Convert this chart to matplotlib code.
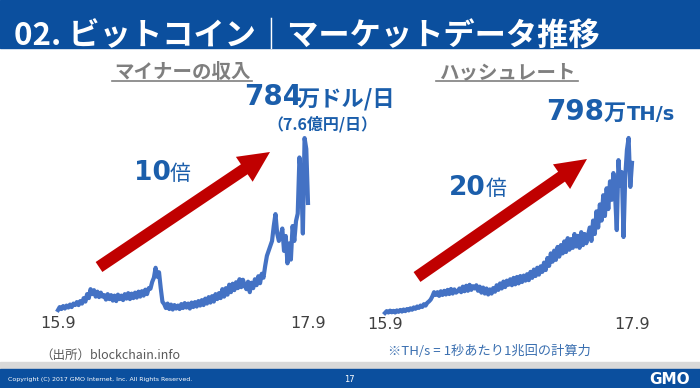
import matplotlib
matplotlib.use("Agg")
import matplotlib.pyplot as plt
from matplotlib.patches import Rectangle, FancyArrow
import pandas as pd

plt.rcParams['font.family'] = ['Noto Sans CJK JP', 'DejaVu Sans']

# マイナーの収入 (万ドル/日), 5日ごと 2015.9 -> 2017.9
revenue = [92, 104, 96, 108, 98, 110, 102, 114, 104, 118, 112,
           124, 112, 128, 118, 140, 126, 156, 140, 176,
           156, 172, 146, 166, 144, 162, 146,
           152, 134, 156, 136, 152, 130, 150, 128, 154, 136, 150, 132, 156, 138, 160, 136, 158, 140,
           162, 142, 166, 146, 168, 150, 174, 156, 180, 178, 205,
           222, 262, 226, 244, 180, 125,
           116, 100, 118, 96, 114, 94, 112, 98, 110,
           96, 116, 100, 120, 102, 118, 98, 122, 104, 124, 106, 128, 110,
           132, 112, 138, 118, 144, 122, 148, 126, 156, 136,
           160, 140, 176, 146, 180, 154, 194,
           164, 198, 172, 204, 180, 216, 184, 214,
           190, 176, 206, 164,
           202, 180, 216, 192, 228, 200, 238, 222,
           270, 310, 330, 350, 370, 430, 478, 400, 370, 390, 420, 330, 390,
           280, 360, 295, 430, 370, 450, 480, 706, 630, 400, 784, 740, 523]

# ハッシュレート (万TH/s)
hashrate = [40, 48, 42, 50, 43, 49, 42, 51, 45, 53, 46, 55, 48, 57, 51,
            60, 54, 64, 58, 68, 62, 72, 66, 78, 72, 84,
            90, 98, 112, 130, 118,
            130, 114, 134, 118, 136, 120, 140, 122, 144, 124, 142, 128, 134,
            146, 130, 154, 134, 158, 136, 162, 140, 156, 146,
            160, 136, 154, 128, 150, 124, 146, 120, 142, 124,
            148, 132, 160, 140, 168, 146, 176, 152, 180, 162,
            186, 160, 192, 164, 196, 168, 200, 174, 202, 180,
            208, 182, 218, 192, 228, 200, 236, 206, 242, 218,
            258, 226, 278, 244, 298, 262, 310, 270, 326, 284, 334, 298,
            350, 304, 364, 314, 360, 322, 382, 328, 374, 322, 390, 334, 382, 342, 376,
            410, 352, 440, 382, 480, 410, 510, 440, 550, 460, 580, 490, 610, 530, 646,
            550, 399, 702, 590, 650, 369, 630, 746, 798, 586, 690]

dates_rev = pd.date_range('2015-09-01', periods=len(revenue), freq='5D')
dates_hash = pd.date_range('2015-09-01', periods=len(hashrate), freq='5D')
tick_labels = ['15.9', '17.9']

BLUE_BAR = '#0B4F9E'
TXT_BLUE = '#1B5EAB'
LINE = '#4472C4'
RED = '#C00000'

fig = plt.figure(figsize=(7, 3.88), dpi=100)

# 背景 (ピクセル座標)
bg = fig.add_axes([0, 0, 1, 1])
bg.set_xlim(0, 700)
bg.set_ylim(388, 0)
bg.axis('off')
bg.add_patch(Rectangle((0, 0), 700, 48, color=BLUE_BAR))
bg.add_patch(Rectangle((0, 362), 700, 7, color='#D9D9D9'))
bg.add_patch(Rectangle((0, 369), 700, 19, color=BLUE_BAR))

bg.text(14, 45, '02. ビットコイン｜マーケットデータ推移', color='white',
        fontsize=22.5, fontweight='bold', va='baseline')

# 見出し
bg.text(182, 78, 'マイナーの収入', color='#7F7F7F', fontsize=14,
        fontweight='bold', ha='center', va='baseline')
bg.plot([112, 252], [81, 81], color='#7F7F7F', lw=1.2)
bg.text(507, 78, 'ハッシュレート', color='#7F7F7F', fontsize=14,
        fontweight='bold', ha='center', va='baseline')
bg.plot([436, 578], [81, 81], color='#7F7F7F', lw=1.2)

# 矢印
bg.add_patch(FancyArrow(99, 267, 171, -115, width=12, head_width=30,
                        head_length=31, color=RED, lw=0, length_includes_head=True))
bg.add_patch(FancyArrow(417, 277, 170, -118, width=12, head_width=30,
                        head_length=31, color=RED, lw=0, length_includes_head=True))

# 数値ラベル
bg.text(244, 105, '784', family='DejaVu Sans', fontweight='bold', fontsize=20,
        color=TXT_BLUE, va='baseline')
bg.text(298, 105, '万ドル/日', fontweight='bold', fontsize=16,
        color=TXT_BLUE, va='baseline')
bg.text(322, 129, '（7.6億円/日）', fontweight='bold', fontsize=11.5,
        color=TXT_BLUE, ha='center', va='baseline')
bg.text(134, 180, '10', family='DejaVu Sans', fontweight='bold', fontsize=19,
        color=TXT_BLUE, va='baseline')
bg.text(170, 180, '倍', fontsize=15, color=TXT_BLUE, va='baseline')

bg.text(546, 120, '798', family='DejaVu Sans', fontweight='bold', fontsize=20,
        color=TXT_BLUE, va='baseline')
bg.text(604, 120, '万', fontweight='bold', fontsize=16,
        color=TXT_BLUE, va='baseline')
bg.text(627, 120, 'TH/s', family='DejaVu Sans', fontweight='bold', fontsize=14,
        color=TXT_BLUE, va='baseline')
bg.text(449, 195, '20', family='DejaVu Sans', fontweight='bold', fontsize=19,
        color=TXT_BLUE, va='baseline')
bg.text(486, 195, '倍', fontsize=15, color=TXT_BLUE, va='baseline')

# 注記・フッター
bg.text(40, 355, '（出所）blockchain.info', color='#595959', fontsize=9, va='center')
bg.text(388, 351, '※TH/s = 1秒あたり1兆回の計算力', color='#3A6FB0',
        fontsize=9.5, va='center')
bg.text(8, 379, 'Copyright (C) 2017 GMO Internet, Inc. All Rights Reserved.',
        color='white', fontsize=4.5, family='DejaVu Sans', va='center')
bg.text(349, 380, '17', color='white', fontsize=6, family='DejaVu Sans',
        ha='center', va='center')
bg.text(690, 379, 'GMO', color='white', fontsize=11, family='DejaVu Sans',
        fontweight='bold', ha='right', va='center')

# グラフ
def draw_series(rect, x, y, label_y):
    ax = fig.add_axes(rect)
    ax.plot(x, y, color=LINE, lw=3.0, clip_on=False, solid_joinstyle='round')
    ax.set_xlim(x[0], x[-1])
    ax.set_ylim(0, 800)
    ax.axis('off')
    tr = ax.get_xaxis_transform()
    for xv, lab in zip([x[0], x[-1]], tick_labels):
        ax.text(xv, label_y, lab, transform=tr, family='DejaVu Sans',
                fontsize=11.5, color='#404040', ha='center', va='center')
    return ax

draw_series([58 / 700, (388 - 332.9) / 388, 250 / 700, 198.8 / 388],
            dates_rev, revenue, 0.045)
draw_series([385 / 700, (388 - 322.2) / 388, 247 / 700, 184.7 / 388],
            dates_hash, hashrate, -0.01)

plt.savefig('out.png', dpi=100)
